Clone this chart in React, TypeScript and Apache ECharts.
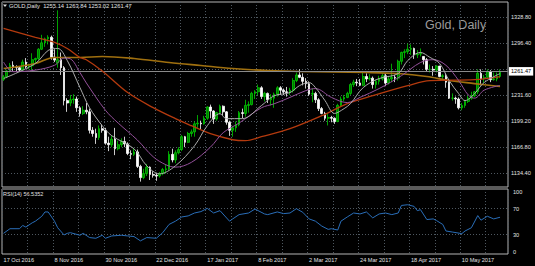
import React, { useEffect, useRef } from 'react';
import * as echarts from 'echarts';

const tickLabels = ['17 Oct 2016', '8 Nov 2016', '30 Nov 2016', '22 Dec 2016', '17 Jan 2017', '8 Feb 2017', '2 Mar 2017', '24 Mar 2017', '18 Apr 2017', '10 May 2017'];

const priceGridValues = [1134.4, 1166.8, 1199.2, 1231.6, 1264.0, 1296.4, 1328.8];
const priceLabelValues = [1134.4, 1166.8, 1199.2, 1231.6, 1296.4, 1328.8];
const rsiGridValues = [30, 70];
const rsiLabelTexts = ['0', '30', '70', '100'];
// MT4 draws the 0 and 100 labels nudged inside the indicator window
const rsiLabelSpots = [3.5, 30, 70, 96];

const opens = [
  1251.5, 1254.5, 1262, 1269, 1266.5, 1266, 1263, 1273, 1267, 1268.5,
  1276, 1277.5, 1289, 1297, 1302, 1304, 1279, 1272, 1276, 1266,
  1225, 1222, 1226, 1227, 1216, 1209, 1213, 1211, 1188, 1184,
  1179, 1190, 1188, 1172, 1170, 1177, 1165, 1170, 1174, 1171,
  1159, 1158, 1161, 1143, 1129, 1134, 1142, 1133, 1132, 1131,
  1134, 1139, 1140, 1158, 1151, 1160, 1164, 1180, 1173, 1184,
  1186, 1196, 1197, 1196, 1203, 1217, 1212, 1202, 1210, 1218,
  1211, 1198, 1188, 1191, 1195, 1210, 1209, 1219, 1220, 1234,
  1236, 1241, 1230, 1234, 1226, 1228, 1233, 1241, 1238, 1236,
  1235, 1238, 1250, 1257, 1254, 1249, 1246, 1233, 1234, 1226,
  1215, 1209, 1203, 1204, 1203, 1199, 1219, 1227, 1229, 1234,
  1245, 1248, 1247, 1244, 1255, 1252, 1253, 1245, 1249, 1252,
  1256, 1247, 1252, 1254, 1253, 1274, 1285, 1286, 1289, 1290,
  1282, 1283, 1280, 1276, 1264, 1264, 1263, 1268, 1255, 1256,
  1248, 1228, 1228, 1227, 1216, 1219, 1224, 1228, 1231, 1236,
  1259, 1252, 1254, 1261, 1251, 1252, 1255.14
];
const highs = [
  1257, 1263.5, 1272, 1274, 1269, 1268, 1276, 1278, 1271, 1284,
  1278.5, 1290.5, 1307, 1303.5, 1306.5, 1306, 1289, 1337.5, 1285, 1268,
  1228, 1232, 1233, 1230, 1218, 1218, 1222, 1215, 1192, 1190,
  1194, 1195, 1191, 1180, 1181, 1191, 1175, 1178, 1180, 1173,
  1163, 1166, 1164, 1145, 1140, 1146, 1143, 1137, 1135, 1136,
  1141, 1145, 1162, 1165, 1163, 1167, 1182, 1181, 1186, 1189,
  1199, 1207, 1200, 1206, 1218, 1220, 1213, 1211, 1220, 1219,
  1212, 1200, 1193, 1199, 1212, 1215, 1226, 1224, 1236, 1238,
  1245, 1243, 1236, 1235, 1233, 1235, 1243, 1243, 1240, 1242,
  1241, 1253, 1260, 1264, 1259, 1253, 1249, 1240, 1236, 1228,
  1217, 1211, 1209, 1206, 1204, 1221, 1230, 1232, 1236, 1247,
  1251, 1252, 1252, 1262, 1259, 1258, 1255, 1251, 1256, 1259,
  1259, 1256, 1271, 1257, 1276, 1286, 1289, 1296, 1295, 1291,
  1288, 1290, 1280, 1278, 1270, 1268, 1269, 1268, 1258, 1259,
  1249, 1234, 1230, 1229, 1222, 1226, 1231, 1236, 1237, 1264,
  1264, 1257, 1264, 1263, 1260, 1260, 1263.84
];
const lows = [
  1249.5, 1253, 1260, 1262, 1261, 1261, 1262, 1265, 1264, 1263,
  1271, 1275, 1288, 1292, 1295, 1276, 1273, 1266, 1257, 1219,
  1211, 1218, 1221, 1211, 1205, 1207, 1208, 1184, 1180, 1171,
  1176, 1185, 1170, 1162, 1167, 1157, 1163, 1167, 1167, 1157,
  1152, 1156, 1141, 1124, 1127, 1131, 1126, 1129, 1125, 1129,
  1132, 1134, 1138, 1148, 1147, 1158, 1162, 1167, 1172, 1180,
  1180, 1191, 1189, 1195, 1201, 1203, 1196, 1200, 1208, 1207,
  1195, 1181, 1180, 1186, 1193, 1203, 1205, 1210, 1219, 1227,
  1232, 1227, 1224, 1222, 1219, 1216, 1230, 1232, 1232, 1230,
  1232, 1235, 1248, 1253, 1244, 1240, 1231, 1223, 1222, 1212,
  1208, 1200, 1194, 1198, 1196, 1198, 1218, 1224, 1228, 1232,
  1242, 1243, 1243, 1243, 1248, 1250, 1240, 1240, 1245, 1250,
  1243, 1245, 1248, 1248, 1250, 1270, 1278, 1283, 1282, 1277,
  1278, 1280, 1270, 1261, 1260, 1256, 1260, 1254, 1250, 1241,
  1227, 1225, 1221, 1214, 1213, 1216, 1222, 1226, 1229, 1233,
  1244, 1247, 1252, 1248, 1250, 1249, 1253.02
];
const closes = [
  1254.5, 1262, 1269, 1266.5, 1266, 1263, 1273, 1267, 1268.5, 1276,
  1277.5, 1289, 1297, 1302, 1304, 1279, 1275.5, 1276, 1266, 1225,
  1222, 1226, 1227, 1216, 1209, 1213, 1211, 1188, 1184, 1179,
  1190, 1188, 1172, 1170, 1177, 1165, 1170, 1174, 1171, 1159,
  1158, 1161, 1143, 1129, 1134, 1142, 1133, 1132, 1131, 1134,
  1139, 1140, 1158, 1151, 1160, 1164, 1180, 1173, 1184, 1186,
  1196, 1197, 1196, 1203, 1217, 1212, 1202, 1210, 1218, 1211,
  1198, 1188, 1191, 1195, 1210, 1209, 1219, 1220, 1234, 1236,
  1241, 1230, 1234, 1226, 1228, 1233, 1241, 1238, 1236, 1235,
  1238, 1250, 1257, 1254, 1249, 1246, 1233, 1234, 1226, 1215,
  1209, 1203, 1204, 1203, 1199, 1219, 1227, 1229, 1234, 1245,
  1248, 1247, 1244, 1255, 1252, 1253, 1245, 1249, 1252, 1256,
  1247, 1252, 1254, 1253, 1274, 1285, 1286, 1289, 1290, 1282,
  1283, 1284, 1276, 1264, 1264, 1263, 1268, 1255, 1256, 1248,
  1228, 1228, 1227, 1216, 1219, 1224, 1228, 1231, 1236, 1259,
  1252, 1254, 1261, 1251, 1252, 1255.14, 1261.47
];

const maOrange = [[0, 1265], [10, 1271.3], [16, 1278.8], [24, 1278.8], [31, 1280], [41, 1277.5], [52, 1272.5], [62, 1268.7], [72, 1265], [83, 1262.5], [93, 1261.2], [114, 1260], [124, 1258.7], [133, 1255], [140, 1250], [148, 1246.2], [156, 1242.5]];
const maRed = [[0, 1315], [10, 1303.8], [16, 1297.5], [20, 1290], [24, 1278.8], [26, 1276], [31, 1262], [39, 1235], [47, 1216.2], [54, 1202.5], [59, 1193.7], [65, 1183.7], [72, 1176.2], [76, 1175], [81, 1180], [90, 1190], [100, 1206.2], [108, 1221.2], [116, 1231.2], [127, 1243.7], [134, 1250], [148, 1251.2], [156, 1255]];
const maViolet = [[0, 1273], [3, 1261], [10, 1263], [16, 1269], [19, 1278], [21, 1277], [24, 1260], [26, 1247], [32, 1213], [36, 1197], [42, 1176], [47, 1155], [51, 1145], [54, 1142], [59, 1148], [65, 1167], [69, 1185], [74, 1197], [81, 1216], [85, 1221], [90, 1229], [95, 1237.5], [98, 1240], [103, 1229], [108, 1222.5], [112, 1229], [118, 1240], [125, 1256], [131, 1272.5], [135, 1276], [139, 1269], [143, 1250], [146, 1232], [148, 1228], [151, 1238], [156, 1244]];
const maWhite = [[0, 1252.5], [10, 1271.3], [14, 1287.5], [17, 1290], [20, 1275], [24, 1241.2], [27, 1216.2], [31, 1193.7], [34, 1181.2], [41, 1164.9], [45, 1143.7], [49, 1133.7], [54, 1143.7], [60, 1168.7], [64, 1193.7], [68, 1208.7], [70, 1202.5], [75, 1202.5], [81, 1218.7], [85, 1231], [90, 1235], [93, 1243.7], [96, 1247.5], [98, 1241.2], [101, 1225], [104, 1209], [107, 1215], [109, 1221.2], [113, 1241.2], [118, 1252.5], [124, 1258.7], [127, 1275], [131, 1285], [134, 1278.8], [137, 1271.3], [140, 1250], [143, 1233.7], [145, 1225], [148, 1233.7], [151, 1247.5], [156, 1258.7]];

const rsi = [[0, 31.8], [2, 38.9], [5, 38.9], [6, 43.9], [7, 41.4], [9, 48], [10, 50.5], [12, 58], [13, 64.7], [14, 64.7], [16, 50.5], [17, 40.4], [19, 29.3], [20, 31.8], [21, 32.8], [24, 28.8], [25, 31.8], [27, 25.3], [29, 24.2], [31, 28.8], [32, 24.2], [34, 27.8], [37, 28.8], [39, 27.8], [41, 26.8], [43, 20.2], [45, 25.3], [48, 24.2], [50, 32.8], [52, 45.5], [54, 50.5], [56, 57], [58, 58.6], [60, 63.1], [62, 65.2], [64, 70.2], [66, 63.1], [68, 66.7], [71, 50.5], [72, 54], [74, 60.6], [77, 63.1], [79, 69.2], [82, 61.6], [83, 60.6], [86, 64.7], [88, 62.1], [90, 63.1], [92, 69.7], [94, 64.2], [96, 54], [98, 50.5], [100, 42.9], [102, 37.9], [103, 38.9], [105, 36.9], [106, 50.5], [108, 57], [110, 63.1], [112, 61.6], [114, 64.7], [116, 55.6], [118, 61.6], [120, 63.1], [122, 60.6], [124, 63.1], [125, 74.7], [127, 75.8], [129, 73.2], [130, 66.7], [131, 68.2], [133, 53], [135, 54], [136, 51.5], [138, 45.5], [139, 35.4], [141, 33.8], [144, 31.3], [145, 35.4], [147, 40.4], [149, 59.1], [150, 52], [152, 58.1], [154, 54], [156, 56.5352]];

const lastPrice = 1261.47;
const titleText = 'GOLD,Daily  1255.14 1263.84 1253.02 1261.47';
const rsiText = 'RSI(14) 56.5352';
const watermark = 'Gold, Daily';

const SLOTS = 159;
const FONT = 'Liberation Sans';
const TXT = '#e2e2e2';
const GRIDC = '#4f5860';

export default function App() {
  const ref = useRef<HTMLDivElement>(null);
  useEffect(() => {
    const chart = echarts.init(ref.current!, null, { renderer: 'svg' });
    const cats = Array.from({ length: SLOTS }, (_, i) => String(i));
    const candles = opens.map((o, i) => [o, closes[i], lows[i], highs[i]]);
    const splitX = { show: true, interval: 7, lineStyle: { color: GRIDC, type: [1, 2], width: 1 } };
    const splitY = { show: true, lineStyle: { color: GRIDC, type: [1, 2], width: 1 } };
    const maLine = (data: number[][], color: string, width: number, z: number) => ({
      type: 'line', xAxisIndex: 0, yAxisIndex: 0, data, showSymbol: false, smooth: 0.35,
      lineStyle: { color, width }, z, silent: true,
    });
    chart.setOption({
      animation: false,
      backgroundColor: '#000000',
      textStyle: { fontFamily: FONT },
      grid: [
        { left: 2, top: 2, width: 506, height: 185, show: true, borderColor: '#b4b4b4', borderWidth: 1, backgroundColor: 'transparent' },
        { left: 2, top: 189, width: 506, height: 65, show: true, borderColor: '#b4b4b4', borderWidth: 1, backgroundColor: 'transparent' },
      ],
      xAxis: [
        { type: 'category', gridIndex: 0, data: cats, boundaryGap: true, axisLine: { show: false }, axisTick: { show: false }, axisLabel: { show: false }, splitLine: splitX },
        {
          type: 'category', gridIndex: 1, data: cats, boundaryGap: true, axisLine: { show: false }, axisTick: { show: false },
          axisLabel: {
            show: true, interval: (i: number) => i % 16 === 0 && i <= 144,
            formatter: (_v: string, i: number) => tickLabels[Math.round(i / 16)] || '',
            color: TXT, fontSize: 5.6, fontFamily: FONT, align: 'left', margin: 3,
          },
          splitLine: splitX,
        },
      ],
      yAxis: [
        {
          type: 'value', gridIndex: 0, position: 'right', min: 1117.3, max: 1347.9, scale: true,
          axisLine: { show: false }, axisTick: { show: false, customValues: priceGridValues },
          axisLabel: { customValues: priceLabelValues, formatter: (v: number) => v.toFixed(2), color: TXT, fontSize: 5.6, fontFamily: FONT, margin: 3 },
          splitLine: splitY,
        },
        {
          type: 'value', gridIndex: 1, position: 'right', min: 0, max: 100,
          axisLine: { show: false }, axisTick: { show: false, customValues: rsiGridValues },
          axisLabel: {
            customValues: rsiLabelSpots, color: TXT, fontSize: 5.6, fontFamily: FONT, margin: 5,
            formatter: (v: number) => rsiLabelTexts[rsiLabelSpots.indexOf(v)] ?? String(v),
          },
          splitLine: splitY,
        },
      ],
      series: [
        {
          type: 'candlestick', xAxisIndex: 0, yAxisIndex: 0, data: candles, barWidth: 2.2, z: 3,
          itemStyle: { color: '#007800', color0: '#ffffff', borderColor: '#00cc00', borderColor0: '#ffffff', borderWidth: 0.8 },
          markLine: {
            silent: true, symbol: ['none', 'none'], animation: false,
            lineStyle: { color: '#8a8a8a', type: 'solid', width: 1 },
            label: { show: true, position: 'end', distance: 1, formatter: () => lastPrice.toFixed(2), backgroundColor: '#ffffff', color: '#000000', fontSize: 5.6, fontFamily: FONT, padding: [1.5, 2, 1, 2] },
            data: [{ yAxis: lastPrice }],
          },
        },
        maLine(maOrange, '#a0700f', 1.6, 4),
        maLine(maRed, '#b43a0e', 1.3, 5),
        maLine(maViolet, '#94509a', 1, 6),
        maLine(maWhite, '#aaaaaa', 1, 7),
        {
          type: 'line', xAxisIndex: 1, yAxisIndex: 1, data: rsi, showSymbol: false, smooth: false,
          lineStyle: { color: '#2a6eb8', width: 1 }, z: 4, silent: true,
        },
      ],
      graphic: [
        { type: 'polygon', shape: { points: [[3, 4.5], [7, 4.5], [5, 7]] }, style: { fill: '#dddddd' } },
        { type: 'text', left: 9, top: 2.5, style: { text: titleText, fill: TXT, fontSize: 5.8, fontFamily: FONT } },
        { type: 'text', left: 425, top: 18, style: { text: watermark, fill: '#9c9c9c', fontSize: 12.5, fontFamily: FONT } },
        { type: 'text', left: 3, top: 191, style: { text: rsiText, fill: TXT, fontSize: 5.5, fontFamily: FONT } },
      ],
    });
    return () => chart.dispose();
  }, []);
  return <div ref={ref} style={{ position: 'fixed', left: 0, top: 0, width: 535, height: 266, background: '#000' }} />;
}
